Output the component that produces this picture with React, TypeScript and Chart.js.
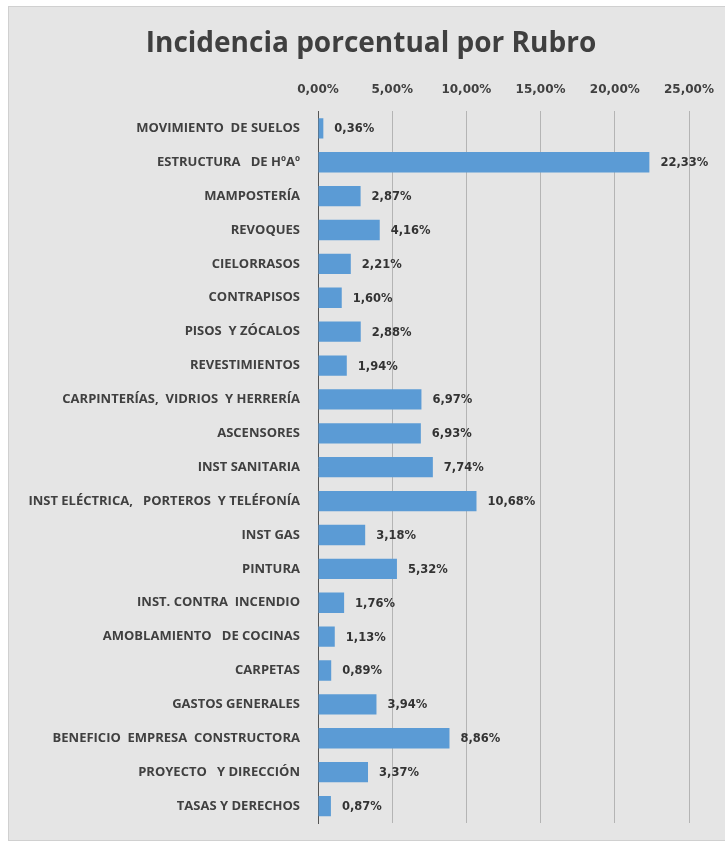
import React, { useEffect, useRef } from "react";
import { Chart, registerables } from "chart.js";

Chart.register(...registerables);

const titleText = "Incidencia porcentual por Rubro";

const categories = [
  "MOVIMIENTO  DE SUELOS",
  "ESTRUCTURA   DE HºAº",
  "MAMPOSTERÍA",
  "REVOQUES",
  "CIELORRASOS",
  "CONTRAPISOS",
  "PISOS  Y ZÓCALOS",
  "REVESTIMIENTOS",
  "CARPINTERÍAS,  VIDRIOS  Y HERRERÍA",
  "ASCENSORES",
  "INST SANITARIA",
  "INST ELÉCTRICA,   PORTEROS  Y TELÉFONÍA",
  "INST GAS",
  "PINTURA",
  "INST. CONTRA  INCENDIO",
  "AMOBLAMIENTO   DE COCINAS",
  "CARPETAS",
  "GASTOS GENERALES",
  "BENEFICIO  EMPRESA  CONSTRUCTORA",
  "PROYECTO   Y DIRECCIÓN",
  "TASAS Y DERECHOS",
];

const values = [
  0.36, 22.33, 2.87, 4.16, 2.21, 1.6, 2.88, 1.94, 6.97, 6.93, 7.74, 10.68,
  3.18, 5.32, 1.76, 1.13, 0.89, 3.94, 8.86, 3.37, 0.87,
];

const xTicks = [0, 5, 10, 15, 20, 25];

const fmt = (v: number) => v.toFixed(2).replace(".", ",") + "%";

const NUM_FONT = "'DejaVu Sans', sans-serif";
const CAT_FONT = "'Open Sans', sans-serif";

const bgPlugin = {
  id: "bgBox",
  beforeDraw(chart: any) {
    const ctx = chart.ctx;
    ctx.save();
    ctx.fillStyle = "#ffffff";
    ctx.fillRect(0, 0, chart.width, chart.height);
    ctx.fillStyle = "#e5e5e5";
    ctx.fillRect(8, 7, chart.width - 8, chart.height - 9);
    ctx.strokeStyle = "#d0d0d0";
    ctx.lineWidth = 1;
    ctx.strokeRect(8.5, 6.5, chart.width, chart.height - 8);
    // title
    ctx.fillStyle = "#3f3f3f";
    ctx.font = "bold 28px " + CAT_FONT;
    ctx.textAlign = "center";
    ctx.textBaseline = "alphabetic";
    ctx.fillText(titleText, 371, 52);
    ctx.restore();
  },
};

const labelPlugin = {
  id: "valueLabels",
  afterDatasetsDraw(chart: any) {
    const ctx = chart.ctx;
    const meta = chart.getDatasetMeta(0);
    ctx.save();
    ctx.font = "bold 11.5px " + NUM_FONT;
    ctx.fillStyle = "#333333";
    ctx.textAlign = "left";
    ctx.textBaseline = "middle";
    meta.data.forEach((bar: any, i: number) => {
      ctx.fillText(fmt(values[i]), bar.x + 11, bar.y + 1);
    });
    ctx.restore();
  },
};

export default function App() {
  const ref = useRef<HTMLCanvasElement>(null);

  useEffect(() => {
    if (!ref.current) return;
    const chart = new Chart(ref.current, {
      type: "bar",
      data: {
        labels: categories,
        datasets: [
          {
            data: values,
            backgroundColor: "#5b9bd5",
            borderWidth: 0,
            barPercentage: 0.6,
            categoryPercentage: 1,
          },
        ],
      },
      options: {
        indexAxis: "y",
        animation: false,
        responsive: false,
        maintainAspectRatio: false,
        layout: { padding: { top: 69, right: 36, bottom: 19, left: 0 } },
        plugins: {
          legend: { display: false },
          tooltip: { enabled: false },
          title: { display: false },
        },
        scales: {
          x: {
            position: "top",
            min: 0,
            max: 25,
            afterBuildTicks: (scale: any) => {
              scale.ticks = xTicks.map((v) => ({ value: v }));
            },
            afterFit: (scale: any) => {
              scale.paddingLeft = 0;
              scale.paddingRight = 0;
            },
            ticks: {
              callback: (v: any) => fmt(Number(v)),
              color: "#404040",
              font: { family: NUM_FONT, size: 12, weight: "bold" },
              padding: 14,
              maxRotation: 0,
            },
            grid: { color: "#b4b4b4", drawTicks: false, lineWidth: 1 },
            border: { display: false },
          },
          y: {
            afterFit: (scale: any) => {
              scale.width = 318;
              scale.paddingTop = 0;
              scale.paddingBottom = 0;
            },
            ticks: {
              color: "#404040",
              font: { family: CAT_FONT, size: 13, weight: "bold" },
              padding: 18,
              autoSkip: false,
            },
            grid: { display: false, drawTicks: false },
            border: { display: true, color: "#555555", width: 1 },
          },
        },
      },
      plugins: [bgPlugin, labelPlugin],
    });
    return () => chart.destroy();
  }, []);

  return (
    <div style={{ position: "absolute", left: 0, top: 0, width: 725, height: 842 }}>
      <canvas ref={ref} width={725} height={842} style={{ width: 725, height: 842, display: "block" }} />
    </div>
  );
}
